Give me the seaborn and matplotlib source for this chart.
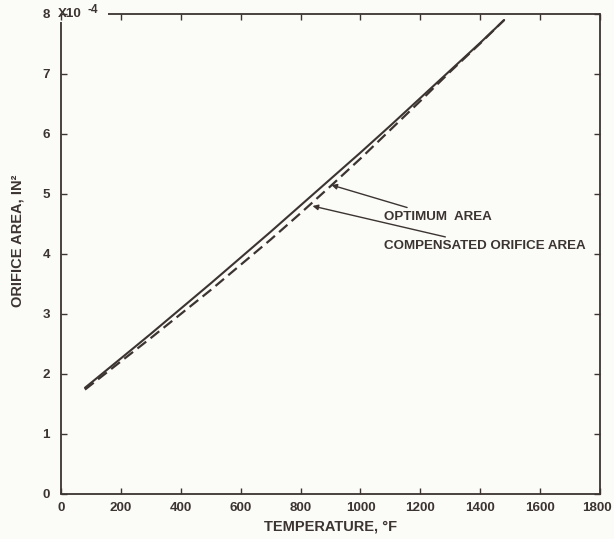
import matplotlib
matplotlib.use("Agg")
import matplotlib.pyplot as plt
import matplotlib.transforms as mtransforms
import seaborn as sns
import pandas as pd

# ---- data ----
temperature_f = [80, 200, 300, 400, 500, 600, 700, 800, 900, 1000, 1100, 1200, 1300, 1400, 1480]
optimum_area = [1.77, 2.26, 2.67, 3.09, 3.51, 3.94, 4.37, 4.81, 5.25, 5.69, 6.14, 6.60, 7.06, 7.52, 7.90]
compensated_area = [1.74, 2.21, 2.60, 3.00, 3.40, 3.82, 4.24, 4.68, 5.13, 5.59, 6.07, 6.55, 7.04, 7.51, 7.90]
x_ticks = [0, 200, 400, 600, 800, 1000, 1200, 1400, 1600, 1800]
y_ticks = [0, 1, 2, 3, 4, 5, 6, 7, 8]
label_optimum = "OPTIMUM  AREA"
label_compensated = "COMPENSATED ORIFICE AREA"

sns.set_theme(style="white")
plt.rcParams['font.family'] = ['Liberation Sans', 'DejaVu Sans']
plt.rcParams['font.weight'] = 'bold'

ink = "#3b3430"
bg = "#fbfbf8"
fs = 9.6

df_opt = pd.DataFrame({"T": temperature_f, "A": optimum_area})
df_comp = pd.DataFrame({"T": temperature_f, "A": compensated_area})

fig = plt.figure(figsize=(6.14, 5.39), dpi=100, facecolor=bg)
ax = fig.add_axes([61/614, 45/539, 539/614, 480/539])
ax.set_facecolor(bg)

sns.lineplot(data=df_opt, x="T", y="A", ax=ax, color=ink, lw=1.5, sort=False)
sns.lineplot(data=df_comp, x="T", y="A", ax=ax, color=ink, lw=1.6, sort=False,
             dashes=False, linestyle=(0, (5, 2.5)))

ax.set_xlim(0, 1800)
ax.set_ylim(0, 8)
ax.set_xticks(x_ticks)
ax.set_yticks(y_ticks)
ax.set_xticklabels([str(v) for v in x_ticks], fontsize=fs, fontweight='bold', color=ink)
ax.set_yticklabels([str(v) for v in y_ticks], fontsize=fs, fontweight='bold', color=ink)
ax.tick_params(axis='both', direction='in', length=4, width=1, color=ink,
               top=True, right=True, bottom=True, left=True)
ax.tick_params(axis='x', pad=6)
ax.tick_params(axis='y', pad=8)

# nudge the last x tick label so it stays inside the picture
last = ax.get_xticklabels()[-1]
last.set_transform(last.get_transform() +
                   mtransforms.ScaledTranslation(-3/100, 0, fig.dpi_scale_trans))

for s in ['bottom', 'right']:
    ax.spines[s].set_color(ink)
    ax.spines[s].set_linewidth(1.3)
ax.spines['top'].set_visible(False)
ax.spines['left'].set_visible(False)
# interrupted top and left spines (room for the "8 X10^-4" label)
ax.plot([157, 1800], [8, 8], color=ink, lw=1.3, clip_on=False, solid_capstyle='butt')
ax.plot([0, 0], [0, 7.87], color=ink, lw=1.3, clip_on=False, solid_capstyle='butt')

ax.text(-11, 8, "X10", fontsize=fs, fontweight='bold', color=ink,
        ha='left', va='center', clip_on=False)
ax.text(90, 8.07, "-4", fontsize=8.5, fontweight='bold', color=ink,
        ha='left', va='center', clip_on=False)

ax.set_xlabel("TEMPERATURE, °F", fontsize=10.5, fontweight='bold', color=ink, labelpad=4)
ax.set_ylabel("ORIFICE AREA, IN²", fontsize=10.5, fontweight='bold', color=ink)
ax.yaxis.set_label_coords(-36/539, 253/480)

ax.annotate(label_optimum, xy=(903, 5.15), xytext=(1080, 4.62),
            fontsize=fs, fontweight='bold', color=ink, ha='left', va='center',
            arrowprops=dict(arrowstyle='-|>', color=ink, lw=1, mutation_scale=8,
                            shrinkA=0, shrinkB=0))
ax.annotate(label_compensated, xy=(840, 4.80), xytext=(1080, 4.13),
            fontsize=fs, fontweight='bold', color=ink, ha='left', va='center',
            arrowprops=dict(arrowstyle='-|>', color=ink, lw=1, mutation_scale=8,
                            shrinkA=0, shrinkB=0))

fig.savefig("out.png", dpi=100, facecolor=bg)
